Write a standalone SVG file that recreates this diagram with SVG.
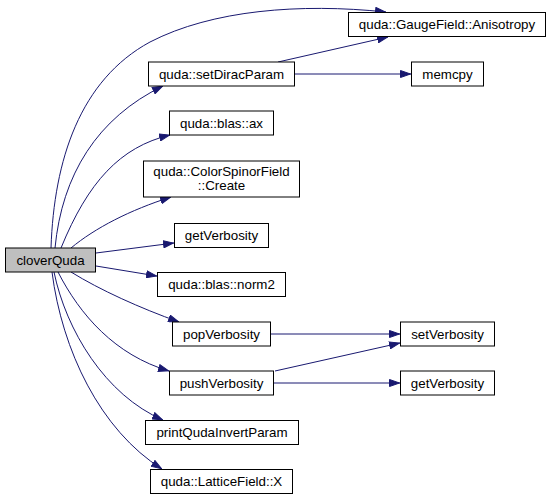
<svg xmlns="http://www.w3.org/2000/svg" width="552" height="500" viewBox="0 0 552 500">
<style>
.n rect{fill:#ffffff;stroke:#000000;stroke-width:1}
.n.root rect{fill:#bfbfbf}
.n text{font-family:"Liberation Sans",Arial,sans-serif;font-size:13.33px;fill:#000000;text-anchor:middle}
.e path{fill:none;stroke:#191970;stroke-width:1;marker-end:url(#ah)}
</style>
<defs>
<marker id="ah" viewBox="0 0 11 8" refX="11" refY="4" markerWidth="11" markerHeight="8" markerUnits="userSpaceOnUse" orient="auto">
<path d="M0.5,0.5 L10.5,4 L0.5,7.5 z" fill="#191970" stroke="#191970" stroke-width="1"/>
</marker>
</defs>
<rect width="552" height="500" fill="#ffffff"/>
<g id="edges" class="e">
<path d="M51,248 C54,160 80,80 150,42 C212,10 300,3 386,12"/>
<path d="M55,248 C62,175 97,118 163,86"/>
<path d="M61,248 C88,182 120,147 170,135"/>
<path d="M71,248 C95,228 130,210 171,197"/>
<path d="M96,253 L174,243"/>
<path d="M96,266 L157,276"/>
<path d="M71,272 C100,290 140,308 179,322"/>
<path d="M58,272 C80,315 115,355 169,371"/>
<path d="M54,272 C66,330 105,395 163,420"/>
<path d="M52,272 C62,350 100,430 162,469"/>
<path d="M278,62 L388,37"/>
<path d="M295,74 L411,74"/>
<path d="M270,334 L400,334"/>
<path d="M275,371 L400,343"/>
<path d="M274,383 L400,383"/>
</g>
<g id="cloverQuda" class="n root"><rect x="5.5" y="248" width="90" height="24"/><text x="50.5" y="264.5">cloverQuda</text></g>
<g id="anisotropy" class="n"><rect x="348.5" y="12.5" width="197" height="24"/><text x="447" y="29">quda::GaugeField::Anisotropy</text></g>
<g id="setDiracParam" class="n"><rect x="148.5" y="62" width="146" height="24"/><text x="221.5" y="78.5">quda::setDiracParam</text></g>
<g id="memcpy" class="n"><rect x="411.5" y="62" width="72" height="24"/><text x="447.5" y="78.5">memcpy</text></g>
<g id="blasAx" class="n"><rect x="169.5" y="111" width="104" height="24"/><text x="221.5" y="127.5">quda::blas::ax</text></g>
<g id="colorSpinorCreate" class="n"><rect x="143.5" y="161" width="156" height="36"/><text x="221.5" y="176">quda::ColorSpinorField</text><text x="221.5" y="190">::Create</text></g>
<g id="getVerbosity1" class="n"><rect x="174.5" y="223.5" width="94" height="24"/><text x="221.5" y="240">getVerbosity</text></g>
<g id="blasNorm2" class="n"><rect x="157.5" y="272.5" width="128" height="24"/><text x="221.5" y="289">quda::blas::norm2</text></g>
<g id="popVerbosity" class="n"><rect x="172.5" y="322" width="98" height="24"/><text x="221.5" y="338.5">popVerbosity</text></g>
<g id="setVerbosity" class="n"><rect x="400.5" y="322" width="94" height="24"/><text x="447.5" y="338.5">setVerbosity</text></g>
<g id="pushVerbosity" class="n"><rect x="169.5" y="371" width="104" height="24"/><text x="221.5" y="387.5">pushVerbosity</text></g>
<g id="getVerbosity2" class="n"><rect x="400.5" y="371" width="94" height="24"/><text x="447.5" y="387.5">getVerbosity</text></g>
<g id="printQudaInvertParam" class="n"><rect x="145.5" y="420.5" width="153" height="24"/><text x="222" y="437">printQudaInvertParam</text></g>
<g id="latticeFieldX" class="n"><rect x="150.5" y="469.5" width="142" height="24"/><text x="221.5" y="486">quda::LatticeField::X</text></g>
</svg>
